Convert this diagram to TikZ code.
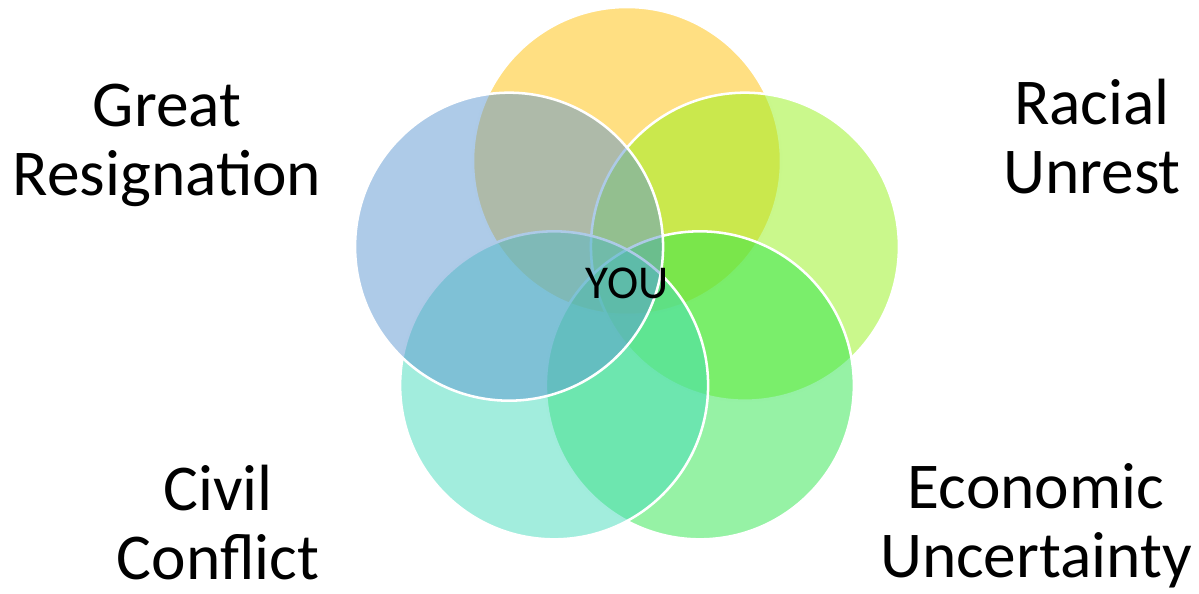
\documentclass[tikz,border=0pt]{standalone}
\usepackage{fontspec}
\setmainfont{Carlito}
\definecolor{topfill}{RGB}{255,191,5}
\definecolor{leftfill}{RGB}{93,151,209}
\definecolor{rightfill}{RGB}{149,241,25}
\definecolor{lowleftfill}{RGB}{69,219,187}
\definecolor{lowrightfill}{RGB}{45,229,75}

\begin{document}
\begin{tikzpicture}[x=0.025cm, y=-0.025cm,
    ring/.style={draw=white, line width=1.8pt, fill opacity=0.5},
    label/.style={font=\fontsize{46.5}{49}\selectfont, align=center, anchor=base, inner sep=0pt}]
    \def\mx{627}    % middle x
    \def\my{285}    % middle y
    \def\R{124}     % distance of circle centres from middle
    \def\r{154}     % circle radius
    \useasboundingbox (0,0) rectangle (1199,593);
    % Draw the circles, back to front
    \draw[ring, fill=topfill] ({\mx+\R*cos(90)},{\my-\R*sin(90)}) circle (\r);
    \draw[ring, fill=rightfill] ({\mx+\R*cos(18)},{\my-\R*sin(18)}) circle (\r);
    \draw[ring, fill=lowrightfill] ({\mx+\R*cos(306)},{\my-\R*sin(306)}) circle (\r);
    \draw[ring, fill=lowleftfill] ({\mx+\R*cos(234)},{\my-\R*sin(234)}) circle (\r);
    \draw[ring, fill=leftfill] ({\mx+\R*cos(162)},{\my-\R*sin(162)}) circle (\r);
    % Centre text
    \node[font=\fontsize{33.5}{36}\selectfont, anchor=base] (you) at (627,298) {YOU};
    % Draw the labels (anchored at the last line)
    \node[label] (great) at (167,195) {Great\\Resignation};
    \node[label] (racial) at (1092,193) {Racial\\Unrest};
    \node[label] (civil) at (218,579) {Civil\\Conflict};
    \node[label] (economic) at (1036,577) {Economic\\Uncertainty};
\end{tikzpicture}
\end{document}
